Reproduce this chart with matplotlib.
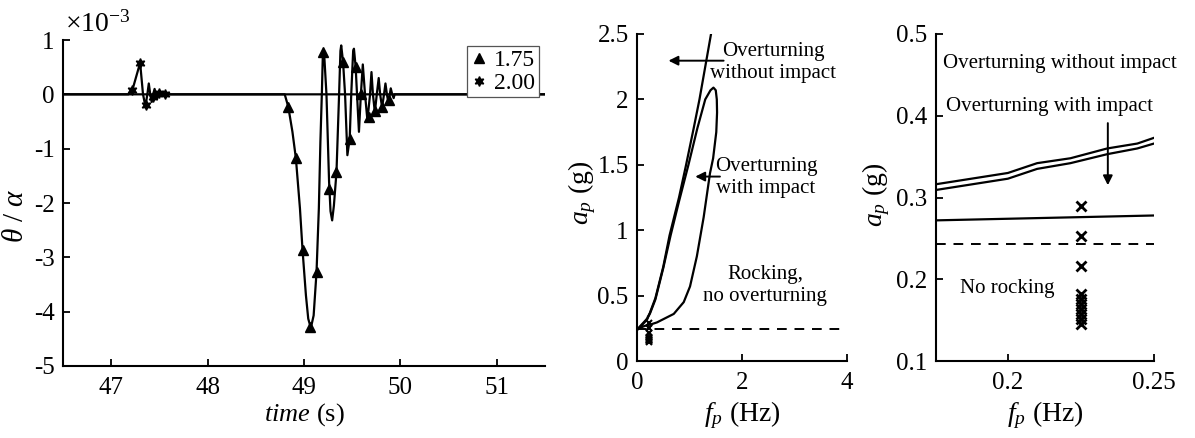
import matplotlib
matplotlib.use('Agg')
import matplotlib.pyplot as plt
from matplotlib.lines import Line2D

plt.rcParams['font.family'] = ['Liberation Serif', 'DejaVu Serif']
plt.rcParams['mathtext.fontset'] = 'custom'
plt.rcParams['mathtext.rm'] = 'Liberation Serif'
plt.rcParams['mathtext.it'] = 'Liberation Serif:italic'
plt.rcParams['axes.unicode_minus'] = False

# ---------------- Panel 1 data (theta/alpha in units of 1e-3) ----------------
t_175 = [46.5, 48.80, 48.837, 48.88, 48.916, 48.958, 48.985, 49.02, 49.044, 49.071,
         49.10, 49.13, 49.154, 49.17, 49.185, 49.195, 49.203, 49.212, 49.233, 49.26,
         49.275, 49.292, 49.31, 49.337, 49.364, 49.378, 49.386, 49.405, 49.426, 49.45,
         49.474, 49.49, 49.51, 49.518, 49.536, 49.55, 49.57, 49.59, 49.61, 49.633,
         49.658, 49.685, 49.70, 49.715, 49.735, 49.755, 49.775, 49.79, 49.81, 49.83,
         49.845, 49.86, 49.875, 49.89, 49.90, 49.915, 49.93, 49.94, 51.5]
y_175 = [0.0, 0.0, -0.23, -0.69, -1.18, -2.10, -2.87, -3.70, -4.13, -4.30,
         -4.07, -3.27, -2.10, -0.88, 0.0, 0.70, 0.82, 0.65, 0.0, -1.60,
         -2.15, -2.32, -2.05, -1.43, 0.0, 0.80, 0.90, 0.60, 0.0, -1.12,
         -0.82, 0.0, 0.80, 0.84, 0.50, 0.0, -0.69, 0.0, 0.55, 0.0,
         -0.48, 0.0, 0.41, 0.0, -0.33, 0.0, 0.30, 0.0, -0.24, 0.0,
         0.20, 0.0, -0.15, 0.0, 0.11, 0.0, -0.07, 0.0, 0.0]
mk_t_175 = [48.837, 48.916, 48.985, 49.061, 49.13, 49.199, 49.26, 49.337, 49.405,
            49.474, 49.536, 49.595, 49.67, 49.74, 49.81, 49.88]
mk_y_175 = [-0.23, -1.18, -2.87, -4.28, -3.27, 0.78, -1.75, -1.43, 0.60,
            -0.82, 0.50, 0.0, -0.42, -0.30, -0.24, -0.10]

t_200 = [46.5, 47.18, 47.22, 47.30, 47.33, 47.355, 47.375, 47.39, 47.405, 47.42,
         47.435, 47.45, 47.465, 47.48, 47.495, 47.51, 47.525, 47.54, 47.555, 47.57,
         47.585, 51.5]
y_200 = [0.0, 0.0, 0.08, 0.58, 0.0, -0.22, 0.0, 0.20, 0.0, -0.14,
         0.0, 0.10, 0.0, -0.07, 0.0, 0.05, 0.0, -0.03, 0.0, 0.02,
         0.0, 0.0]
mk_t_200 = [47.22, 47.30, 47.36, 47.43, 47.50, 47.56]
mk_y_200 = [0.08, 0.58, -0.20, -0.05, 0.02, 0.0]

series_labels = ['1.75', '2.00']
yticks1 = [1, 0, -1, -2, -3, -4, -5]
ytick_labels1 = ['1', '0', '-1', '-2', '-3', '-4', '-5']
xticks1 = [47, 48, 49, 50, 51]

# ---------------- Panels 2/3 data: f_p (Hz) vs a_p (g) ----------------
f_no_impact = [0.0, 0.175, 0.20, 0.21, 0.2214, 0.234, 0.2443, 0.25, 0.35, 0.50,
               0.62, 0.80, 0.93, 1.08, 1.19, 1.30, 1.41]
a_no_impact = [0.24, 0.316, 0.330, 0.342, 0.348, 0.360, 0.366, 0.373, 0.48, 0.72,
               0.96, 1.25, 1.49, 1.78, 2.00, 2.25, 2.50]

f_impact = [0.0, 0.175, 0.20, 0.21, 0.2214, 0.234, 0.2443, 0.25, 0.35, 0.50,
            0.64, 0.80, 0.98, 1.15, 1.30, 1.40, 1.456, 1.50, 1.52, 1.525,
            1.51, 1.45, 1.39, 1.27, 1.14, 1.01, 0.89, 0.70, 0.38, 0.25,
            0.175, 0.0]
a_impact = [0.235, 0.309, 0.323, 0.335, 0.342, 0.353, 0.360, 0.366, 0.47, 0.71,
            0.96, 1.22, 1.50, 1.78, 2.00, 2.07, 2.09, 2.07, 2.00, 1.90,
            1.75, 1.55, 1.435, 1.10, 0.80, 0.57, 0.45, 0.36, 0.295, 0.278,
            0.272, 0.245]

a_threshold = 0.243

f_tests = [0.225] * 10
a_tests = [0.289, 0.253, 0.216, 0.182, 0.176, 0.170, 0.164, 0.158, 0.151, 0.145]

# ---------------- Figure ----------------
W, H = 1195, 438
fig = plt.figure(figsize=(W / 100, H / 100), dpi=100)

def px_axes(left, right, top, bottom):
    return fig.add_axes([left / W, (H - bottom) / H, (right - left) / W, (bottom - top) / H])

ax1 = px_axes(63, 545, 40, 366)
ax2 = px_axes(637, 847, 34, 361)
ax3 = px_axes(936, 1154, 34, 361)

LW = 1.6
for ax in (ax1, ax2, ax3):
    ax.spines['top'].set_visible(False)
    ax.spines['right'].set_visible(False)
    for s in ('left', 'bottom'):
        ax.spines[s].set_linewidth(1.5)
    ax.tick_params(direction='in', length=5, width=1.3, labelsize=18, top=False, right=False)
    ax.tick_params(axis='x', pad=8)
    ax.tick_params(axis='y', pad=6)

# Panel 1
ax1.plot(t_175, y_175, color='k', lw=LW)
ax1.plot(t_200, y_200, color='k', lw=LW)
ax1.plot(mk_t_175, mk_y_175, ls='none', marker='^', color='k', ms=7)
ax1.plot(mk_t_200, mk_y_200, ls='none', marker=(6, 1, 0), color='k', ms=7)
ax1.set_xlim(46.5, 51.5)
ax1.set_ylim(-5, 1)
ax1.set_xticks(xticks1)
ax1.set_yticks(yticks1)
ax1.set_yticklabels(ytick_labels1)
ax1.set_ylabel(r'$\theta$ / $\alpha$', fontsize=21, va='center')
ax1.yaxis.set_label_coords(-0.098, 0.46)
ax1.set_xlabel(r'$\mathit{time}$ (s)', fontsize=19, va='center')
ax1.xaxis.set_label_coords(0.5, -0.148)
ax1.text(0.004, 1.008, r'$\times 10^{-3}$', transform=ax1.transAxes, fontsize=20,
         ha='left', va='bottom')
handles = [Line2D([], [], ls='none', marker='^', color='k', ms=7),
           Line2D([], [], ls='none', marker=(6, 1, 0), color='k', ms=7)]
leg = ax1.legend(handles, series_labels, loc='upper right',
                 bbox_to_anchor=(539 / W, 1 - 46 / H), bbox_transform=fig.transFigure,
                 fontsize=17, handlelength=0.7, handletextpad=0.3, borderpad=0.15,
                 labelspacing=0.05, borderaxespad=0, fancybox=False, framealpha=1,
                 edgecolor='#555555')
leg.get_frame().set_linewidth(0.9)

# Panel 2
ax2.plot(f_no_impact, a_no_impact, color='k', lw=LW)
ax2.plot(f_impact, a_impact, color='k', lw=LW)
ax2.axhline(a_threshold, color='k', lw=1.4, ls=(0, (5, 4)))
ax2.plot(f_tests, a_tests, ls='none', marker='x', color='k', ms=5, mew=1.5)
ax2.set_xlim(0, 4)
ax2.set_ylim(0, 2.5)
ax2.set_xticks([0, 2, 4])
ax2.set_yticks([0, 0.5, 1, 1.5, 2, 2.5])
ax2.set_yticklabels(['0', '0.5', '1', '1.5', '2', '2.5'])
ax2.set_ylabel(r'$a_p$ (g)', fontsize=20, va='center')
ax2.yaxis.set_label_coords(-0.262, 0.514)
ax2.set_xlabel(r'$f_p$ (Hz)', fontsize=20, va='center')
ax2.xaxis.set_label_coords(0.5, -0.165)
ax2.text(2.595, 2.283, 'Overturning\nwithout impact', fontsize=15, ha='center', va='center')
ax2.text(2.456, 1.404, 'Overturning\nwith impact', fontsize=15, ha='center', va='center')
ax2.text(2.443, 0.58, 'Rocking,\nno overturning', fontsize=15, ha='center', va='center')
arrow_kw = dict(arrowstyle='-|>', color='k', lw=1.4, mutation_scale=14, shrinkA=0, shrinkB=0)
ax2.annotate('', xy=(0.60, 2.296), xytext=(1.65, 2.296), arrowprops=arrow_kw)
ax2.annotate('', xy=(1.11, 1.41), xytext=(1.58, 1.41), arrowprops=arrow_kw)

# Panel 3
ax3.plot(f_no_impact, a_no_impact, color='k', lw=LW)
ax3.plot(f_impact, a_impact, color='k', lw=LW)
ax3.axhline(a_threshold, color='k', lw=1.4, ls=(0, (5, 4)))
ax3.plot(f_tests, a_tests, ls='none', marker='x', color='k', ms=7, mew=2)
ax3.set_xlim(0.1754, 0.25)
ax3.set_ylim(0.1, 0.5)
ax3.set_xticks([0.2, 0.25])
ax3.set_xticklabels(['0.2', '0.25'])
ax3.set_yticks([0.1, 0.2, 0.3, 0.4, 0.5])
ax3.set_yticklabels(['0.1', '0.2', '0.3', '0.4', '0.5'])
ax3.set_ylabel(r'$a_p$ (g)', fontsize=20, va='center')
ax3.yaxis.set_label_coords(-0.275, 0.508)
ax3.set_xlabel(r'$f_p$ (Hz)', fontsize=20, va='center')
ax3.xaxis.set_label_coords(0.5, -0.165)
ax3.text(0.1779, 0.4645, 'Overturning without impact', fontsize=15, ha='left', va='center')
ax3.text(0.1788, 0.4113, 'Overturning with impact', fontsize=15, ha='left', va='center')
ax3.text(0.1836, 0.1887, 'No rocking', fontsize=15, ha='left', va='center')
ax3.annotate('', xy=(0.2342, 0.315), xytext=(0.2342, 0.391), arrowprops=arrow_kw)

fig.savefig('out.png', dpi=100)
